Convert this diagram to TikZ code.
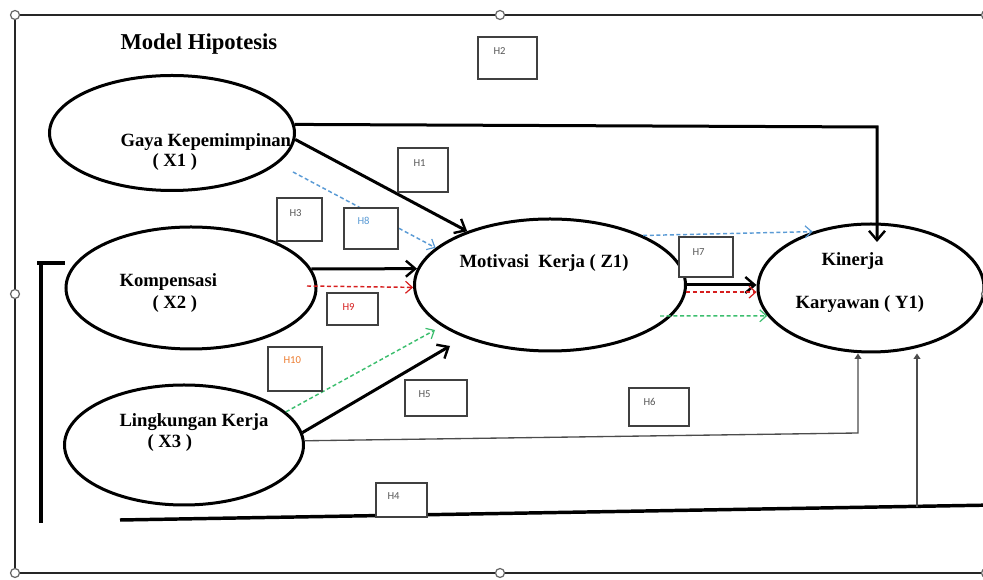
\documentclass[tikz,border=0pt]{standalone}
\usepackage{fontspec}
\setmainfont{Liberation Serif}
\newfontfamily\boxfont{Carlito}
\usetikzlibrary{arrows.meta,shapes.geometric}

\definecolor{hblue}{RGB}{91,155,213}
\definecolor{hred}{RGB}{214,30,30}
\definecolor{hgreen}{RGB}{60,190,110}
\definecolor{horange}{RGB}{237,125,49}

\tikzset{every picture/.style={line width=0.75pt}}
\tikzset{
  varb/.style={draw, ellipse, line width=2.25pt, inner sep=0pt},
  vtxt/.style={font=\fontsize{14}{16}\selectfont\bfseries, inner sep=0pt, anchor=base west},
  hbox/.style={draw=black!75, fill=white, line width=0.9pt, inner sep=0pt},
  htxt/.style={font=\boxfont\fontsize{8}{9}\selectfont, text=black!65, inner sep=0pt, anchor=west},
  bigarr/.style={line width=2.25pt, -{Straight Barb[length=7pt,width=12pt,line width=1.8pt]}},
  dasharr/.style={line width=1.1pt, dash pattern=on 3pt off 2pt, -{Straight Barb[length=5pt,width=9pt,line width=0.9pt]}},
  thinarr/.style={line width=1pt, draw=black!70, -{Triangle[length=4pt,width=5pt]}},
  handle/.style={circle, draw=black!60, fill=white, line width=0.9pt, minimum size=6.75pt, inner sep=0pt},
}

\begin{document}
\begin{tikzpicture}[x=0.75pt,y=0.75pt,yscale=-1,xscale=1]
\useasboundingbox (0,0) rectangle (983,580);

%Shape: Frame
\draw [line width=2.2pt, black!85] (15,15) rectangle (986,573) ;

%Shape: Ellipse
\node [varb, minimum width=183.75pt, minimum height=86.25pt] (x1) at (172,133) {};
\node [varb, minimum width=187.5pt, minimum height=91.5pt] (x2) at (191,288) {};
\node [varb, minimum width=179.25pt, minimum height=90pt] (x3) at (184,445) {};
\node [varb, minimum width=203.25pt, minimum height=99pt] (z1) at (550,285) {};
\node [varb, minimum width=169.5pt, minimum height=96pt] (y1) at (871,288) {};

% Text Node
\node [vtxt, font=\fontsize{17}{20}\selectfont\bfseries] (title) at (120,50) {Model Hipotesis};
% Text Node
\node [vtxt] (tx1) at (120,147) {Gaya Kepemimpinan};
\node [vtxt] (tx1b) at (152,167) {( X1 )};
% Text Node
\node [vtxt] (tx2) at (119,287) {Kompensasi};
\node [vtxt] (tx2b) at (152,309) {( X2 )};
% Text Node
\node [vtxt] (tx3) at (119,427) {Lingkungan Kerja};
\node [vtxt] (tx3b) at (147,448) {( X3 )};
% Text Node
\node [vtxt] (tz1) at (459,268) {Motivasi\ \ Kerja ( Z1)};
% Text Node
\node [vtxt] (ty1) at (821,266) {Kinerja};
\node [vtxt] (ty1b) at (795,309) {Karyawan ( Y1)};

%Straight Lines: free ends
\coordinate (k1) at (877,127);
\coordinate (k1e) at (877,242);
\coordinate (b8) at (293,172);
\coordinate (r9) at (307,286);
\coordinate (k5) at (450,346);
\coordinate (g10) at (435,330);
\coordinate (k6) at (858,433);
\coordinate (g7) at (660,316);
\coordinate (b0) at (120,520);
\coordinate (b9) at (995,505);
\coordinate (b4) at (917,507);

%Straight Lines: X1
\draw [bigarr] (x1.4) -- (k1) -- (k1e) ;
\draw [bigarr] (x1.-3) -- (z1.147) ;
\draw [dasharr, hblue] (b8) -- (z1.162) ;
%Straight Lines: X2
\draw [bigarr] (x2.9) -- (z1.173) ;
\draw [dasharr, hred] (r9) -- (z1.181) ;
%Straight Lines: X3
\draw [bigarr] (x3.6) -- (k5) ;
\draw [dasharr, hgreen] (x3.18) -- (g10) ;
\draw [thinarr] (x3.2) -- (k6) -- (k6 |- y1.south) ;
%Straight Lines: Z1
\draw [bigarr] (z1.east) -- (z1.east -| y1.west) ;
\draw [dasharr, hred] (z1.-3) -- (z1.-3 -| y1.west) ;
\draw [dasharr, hgreen] (g7) -- (y1.195) ;
\draw [dasharr, hblue] (z1.28) -- (y1.136) ;
%Straight Lines: bottom
\draw [line width=2.6pt] (b0) -- (b9) ;
\draw [thinarr] (b4) -- (b4 |- y1.south) ;
%Straight Lines: bracket
\draw [line width=2.4pt] (37,263) -- (65,263) ;
\draw [line width=2.4pt] (41,263) -- (41,523) ;

%Shape: Rectangle
\node [hbox, minimum width=44.25pt, minimum height=31.5pt] (h2) at (507.5,58) {};
\node [hbox, minimum width=37.5pt, minimum height=33pt] (h1) at (423,170) {};
\node [hbox, minimum width=33.75pt, minimum height=32.25pt] (h3) at (299.5,219.5) {};
\node [hbox, minimum width=40.5pt, minimum height=30.75pt] (h8) at (371,228.5) {};
\node [hbox, minimum width=38.25pt, minimum height=24pt] (h9) at (352.5,309) {};
\node [hbox, minimum width=40.5pt, minimum height=33pt] (h10) at (295,369) {};
\node [hbox, minimum width=46.5pt, minimum height=27pt] (h5) at (436,398) {};
\node [hbox, minimum width=40.5pt, minimum height=30pt] (h7) at (706,257) {};
\node [hbox, minimum width=45pt, minimum height=28.5pt] (h6) at (659,407) {};
\node [hbox, minimum width=38.25pt, minimum height=25.5pt] (h4) at (401.5,500) {};

% Text Node
\node [htxt] (lh2) at (493,51) {H2};
\node [htxt] (lh1) at (413,163) {H1};
\node [htxt] (lh3) at (289,213) {H3};
\node [htxt, text=hblue] (lh8) at (357,221) {H8};
\node [htxt, text=hred] (lh9) at (342,307) {H9};
\node [htxt, text=horange] (lh10) at (283,360) {H10};
\node [htxt] (lh5) at (418,394) {H5};
\node [htxt] (lh7) at (692,252) {H7};
\node [htxt] (lh6) at (643,402) {H6};
\node [htxt] (lh4) at (387,496) {H4};

%Shape: Handles
\foreach \hx/\hy in {15/15, 500/15, 986/15, 15/294, 986/294, 15/573, 500/573, 986/573}
  \node [handle] at (\hx,\hy) {};

\end{tikzpicture}
\end{document}
